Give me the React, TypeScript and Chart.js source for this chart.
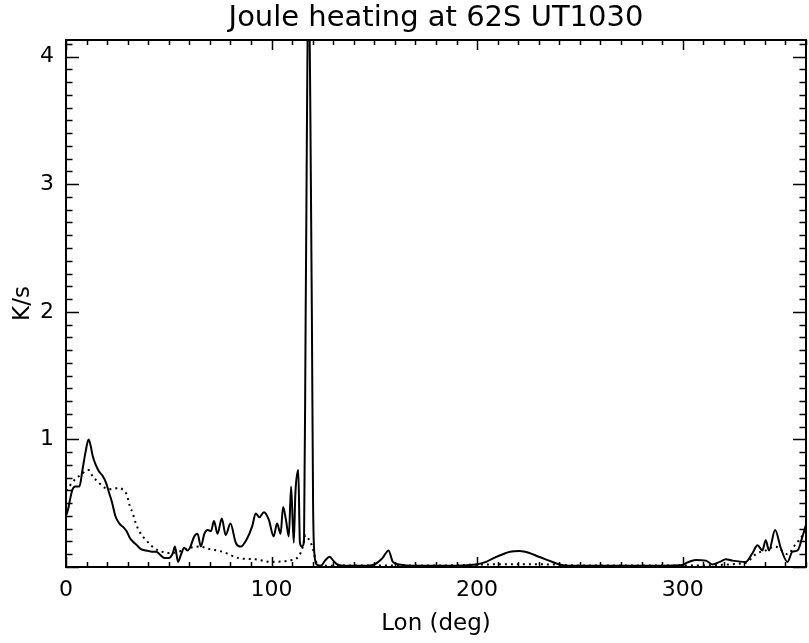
import React, { useEffect, useRef } from "react";
import { Chart, registerables } from "chart.js";

Chart.register(...registerables);

// Solid curve: longitude (deg) and Joule heating (K/s)
const solidLon = [
  0, 1, 2, 3, 4.5, 6.5, 8, 9.5, 11, 12, 13, 14.5, 16, 18, 19.5, 21, 22.5, 24, 26, 28,
  29.5, 31, 32.5, 34.5, 36.5, 39, 42, 44, 45.5, 48, 50, 52, 53, 54.5, 56, 57.5, 59, 60.3,
  62.4, 64, 65.6, 67.3, 69, 70.5, 72, 73.7, 75.8, 77.7, 80, 82.6, 85, 88, 90.6, 92.3, 94,
  96.3, 98.7, 101, 102.7, 104.4, 105.6, 107, 108.4, 109.5, 110.8, 111.6, 113, 113.8, 114.8,
  115.8, 116.6, 118, 119.6, 120.2, 121, 122, 124, 126, 128.3, 130, 132, 136, 145, 150, 154,
  156.9, 159, 162, 170, 185, 199.5, 204.4, 208, 212.5, 216, 220.6, 225.4, 230, 235, 240, 245,
  260, 290, 300, 301.6, 306.4, 311.3, 314.5, 318, 321, 324.2, 330.7, 334, 336.4, 338.8, 340.4,
  342, 345, 347.7, 351, 353.4, 355.9, 358.3, 360,
];
const solidVal = [
  0.4, 0.45, 0.53, 0.6, 0.63, 0.63, 0.76, 0.9, 1.0, 0.95, 0.87, 0.8, 0.75, 0.71, 0.66, 0.58,
  0.5, 0.4, 0.34, 0.31, 0.28, 0.23, 0.2, 0.17, 0.14, 0.13, 0.12, 0.12, 0.1, 0.07, 0.07, 0.11,
  0.16, 0.04, 0.1, 0.15, 0.13, 0.15, 0.24, 0.26, 0.16, 0.26, 0.29, 0.28, 0.36, 0.26, 0.38,
  0.25, 0.34, 0.19, 0.16, 0.22, 0.32, 0.42, 0.39, 0.43, 0.37, 0.24, 0.34, 0.26, 0.47, 0.37,
  0.24, 0.63, 0.19, 0.58, 0.76, 0.19, 0.16, 0.2, 2.0, 4.6, 2.0, 0.5, 0.08, 0.02, 0.01, 0.05,
  0.08, 0.05, 0.02, 0.01, 0.01, 0.02, 0.07, 0.13, 0.04, 0.02, 0.01, 0.01, 0.02, 0.04, 0.07,
  0.1, 0.12, 0.125, 0.11, 0.08, 0.05, 0.02, 0.01, 0.01, 0.01, 0.015, 0.03, 0.055, 0.05, 0.02,
  0.04, 0.06, 0.05, 0.04, 0.11, 0.17, 0.13, 0.21, 0.13, 0.29, 0.15, 0.04, 0.12, 0.13, 0.24,
  0.33,
];

// Dotted curve
const dottedLon = [
  0, 2, 4, 7, 11, 13, 16, 19, 22, 26, 28, 29.5, 31, 32.5, 34, 36, 39, 42, 45, 50, 55, 60, 65,
  70, 76, 84, 92, 100, 108, 113, 115, 116.5, 118, 120, 121.5, 123, 140, 180, 205, 220, 235,
  250, 300, 330, 333, 334, 338, 340.4, 345, 349, 351, 355, 358, 360,
];
const dottedVal = [
  0.6, 0.64, 0.68, 0.72, 0.76, 0.71, 0.66, 0.62, 0.61, 0.62, 0.6, 0.57, 0.48, 0.42, 0.34,
  0.27, 0.21, 0.16, 0.13, 0.11, 0.12, 0.15, 0.16, 0.14, 0.12, 0.07, 0.06, 0.04, 0.05, 0.08,
  0.15, 0.25, 0.22, 0.15, 0.05, 0.01, 0.012, 0.012, 0.02, 0.022, 0.02, 0.012, 0.012, 0.03,
  0.06, 0.08, 0.12, 0.13, 0.16, 0.12, 0.1, 0.18, 0.24, 0.3,
];

const xTickLabels = [0, 100, 200, 300];
const yTickLabels = [1, 2, 3, 4];
const xMinorStep = 10;
const yMinorStep = 0.1;

const X_MIN = 0;
const X_MAX = 360;
const Y_MIN = 0;
const Y_MAX = 4.13;

const TITLE = "Joule heating at 62S UT1030";
const FONT = "'DejaVu Sans', 'Liberation Sans', sans-serif";

const frameTicks = {
  id: "frameTicks",
  afterDatasetsDraw(chart: any) {
    const { ctx, chartArea } = chart;
    const { left, right, top, bottom } = chartArea;
    const xs = chart.scales.x;
    const ys = chart.scales.y;
    ctx.save();
    ctx.strokeStyle = "#000";
    ctx.lineWidth = 1.5;
    ctx.beginPath();
    const nx = Math.round((X_MAX - X_MIN) / xMinorStep);
    for (let i = 0; i <= nx; i++) {
      const v = X_MIN + i * xMinorStep;
      const px = Math.round(xs.getPixelForValue(v)) + 0.5;
      const major = xTickLabels.includes(v);
      const len = major ? 10 : 5;
      ctx.moveTo(px, bottom);
      ctx.lineTo(px, bottom - len);
      ctx.moveTo(px, top);
      ctx.lineTo(px, top + len);
    }
    const ny = Math.floor((Y_MAX - Y_MIN) / yMinorStep + 1e-6);
    for (let i = 0; i <= ny; i++) {
      const v = Y_MIN + i * yMinorStep;
      const py = Math.round(ys.getPixelForValue(v)) + 0.5;
      const major = i % 10 === 0;
      const len = major ? 13 : 6.5;
      ctx.moveTo(left, py);
      ctx.lineTo(left + len, py);
      ctx.moveTo(right, py);
      ctx.lineTo(right - len, py);
    }
    ctx.stroke();
    ctx.lineWidth = 2;
    ctx.strokeRect(left, top, right - left, bottom - top);
    // title centred over the plot area
    ctx.fillStyle = "#000";
    ctx.font = `29px ${FONT}`;
    ctx.textAlign = "center";
    ctx.textBaseline = "middle";
    ctx.fillText(TITLE, (left + right) / 2, 18);
    ctx.restore();
  },
};

export default function App() {
  const canvasRef = useRef<HTMLCanvasElement | null>(null);

  useEffect(() => {
    const canvas = canvasRef.current;
    if (!canvas) return;
    const solidData = solidLon.map((x, i) => ({ x, y: solidVal[i] }));
    const dottedData = dottedLon.map((x, i) => ({ x, y: dottedVal[i] }));
    const chart = new Chart(canvas, {
      type: "line",
      data: {
        datasets: [
          {
            label: "solid",
            data: solidData,
            borderColor: "#000",
            borderWidth: 2,
            pointRadius: 0,
            cubicInterpolationMode: "monotone",
            fill: false,
          },
          {
            label: "dotted",
            data: dottedData,
            borderColor: "#000",
            borderWidth: 2,
            borderDash: [2, 4],
            pointRadius: 0,
            cubicInterpolationMode: "monotone",
            fill: false,
          },
        ],
      },
      options: {
        responsive: false,
        animation: false,
        events: [],
        layout: { padding: { left: 0, right: 3, top: 40, bottom: 0 } },
        plugins: {
          legend: { display: false },
          tooltip: { enabled: false },
          title: { display: false },
        },
        scales: {
          x: {
            type: "linear",
            min: X_MIN,
            max: X_MAX,
            grid: { display: false, drawTicks: false },
            border: { display: false },
            afterBuildTicks: (s: any) => {
              s.ticks = xTickLabels.map((v) => ({ value: v }));
            },
            ticks: {
              autoSkip: false,
              maxRotation: 0,
              padding: 10,
              color: "#000",
              font: { family: FONT, size: 22 },
              callback: (v: any) => String(v),
            },
            title: {
              display: true,
              text: "Lon (deg)",
              color: "#000",
              font: { family: FONT, size: 23 },
              padding: { top: 5, bottom: 5 },
            },
            afterFit: (s: any) => {
              s.height = 76;
            },
          },
          y: {
            type: "linear",
            min: Y_MIN,
            max: Y_MAX,
            grid: { display: false, drawTicks: false },
            border: { display: false },
            afterBuildTicks: (s: any) => {
              s.ticks = yTickLabels.map((v) => ({ value: v }));
            },
            ticks: {
              autoSkip: false,
              padding: 12,
              color: "#000",
              font: { family: FONT, size: 22 },
              callback: (v: any) => String(v),
            },
            title: {
              display: true,
              text: "K/s",
              color: "#000",
              font: { family: FONT, size: 23 },
              padding: { top: 9, bottom: 9 },
            },
            afterFit: (s: any) => {
              s.width = 66;
            },
          },
        },
      },
      plugins: [frameTicks],
    });
    return () => chart.destroy();
  }, []);

  return (
    <div style={{ position: "fixed", left: 0, top: 0, width: 809, height: 643, background: "#fff" }}>
      <canvas ref={canvasRef} width={809} height={643} />
    </div>
  );
}
